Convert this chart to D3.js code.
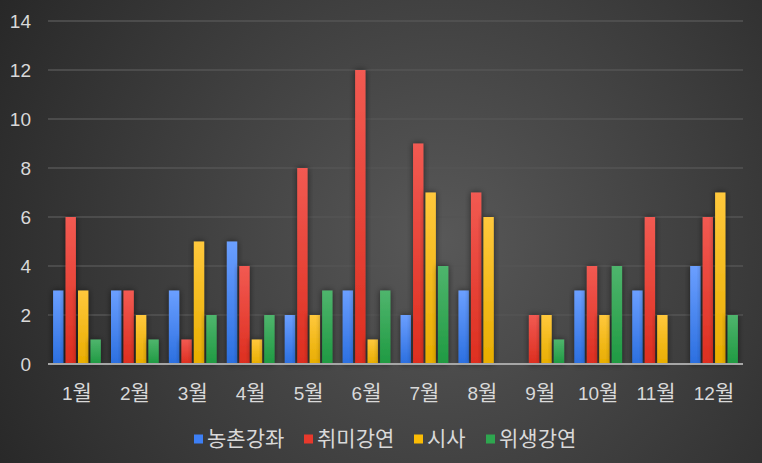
<!DOCTYPE html>
<html>
<head>
<meta charset="utf-8">
<script src="https://cdn.jsdelivr.net/npm/d3@7"></script>
<style>
	html, body { margin: 0; padding: 0; }
	body { width: 762px; height: 463px; overflow: hidden; }
	text { font-family: "Liberation Sans", "Noto Sans CJK KR", sans-serif; }
	.kr { font-family: "Noto Sans CJK KR", sans-serif; }
</style>
</head>
<body>
<script>
(function() {

	var months = ['1월', '2월', '3월', '4월', '5월', '6월', '7월', '8월', '9월', '10월', '11월', '12월'];
	var seriesNames = ['농촌강좌', '취미강연', '시사', '위생강연'];
	var farmLectures = [3, 3, 3, 5, 2, 3, 2, 3, 0, 3, 3, 4];
	var hobbyLectures = [6, 3, 1, 4, 8, 12, 9, 7, 2, 4, 6, 6];
	var currentAffairs = [3, 2, 5, 1, 2, 1, 7, 6, 2, 2, 2, 7];
	var hygieneLectures = [1, 1, 2, 2, 3, 3, 4, 0, 1, 4, 0, 2];
	var yTicks = [0, 2, 4, 6, 8, 10, 12, 14];

	var seriesValues = [farmLectures, hobbyLectures, currentAffairs, hygieneLectures];
	var colors = [
		['#6b9fff', '#2b6fe0'],
		['#f25a52', '#dd2e1f'],
		['#ffc83c', '#e8ad00'],
		['#4fb56d', '#1f9a42']
	];
	var legendColors = ['#3d7ff5', '#e8392c', '#fbbc05', '#2ea64f'];

	var width = 762, height = 463;
	var left = 48, right = 743, top = 21, bottom = 364;
	var fontSize = '19px';
	var krSize = '21px';

	var svg = d3.select('body').append('svg')
		.attr('width', width)
		.attr('height', height);

	var defs = svg.append('defs');

	// background
	var bg = defs.append('radialGradient')
		.attr('id', 'bg')
		.attr('gradientUnits', 'userSpaceOnUse')
		.attr('cx', 440).attr('cy', 240).attr('r', 520);
	bg.append('stop').attr('offset', '0%').attr('stop-color', '#585858');
	bg.append('stop').attr('offset', '100%').attr('stop-color', '#262626');

	svg.append('rect')
		.attr('width', width).attr('height', height)
		.attr('fill', 'url(#bg)');

	// bar gradients
	colors.forEach(function(c, i) {
		var g = defs.append('linearGradient')
			.attr('id', 'bar' + i)
			.attr('x1', 0).attr('y1', 0).attr('x2', 0).attr('y2', 1);
		g.append('stop').attr('offset', '0%').attr('stop-color', c[0]);
		g.append('stop').attr('offset', '100%').attr('stop-color', c[1]);
	});

	var shadow = defs.append('filter')
		.attr('id', 'shadow')
		.attr('x', '-50%').attr('y', '-20%')
		.attr('width', '200%').attr('height', '140%');
	shadow.append('feDropShadow')
		.attr('dx', 0).attr('dy', 0)
		.attr('stdDeviation', 3)
		.attr('flood-color', '#000')
		.attr('flood-opacity', 0.55);

	var x0 = d3.scaleBand()
		.domain(months)
		.range([left, right])
		.paddingInner(0.176)
		.paddingOuter(0.088);

	var x1 = d3.scaleBand()
		.domain(d3.range(seriesNames.length))
		.range([0, x0.bandwidth()])
		.paddingInner(0.17)
		.paddingOuter(0);

	var y = d3.scaleLinear()
		.domain([0, 14])
		.range([bottom, top]);

	// gridlines
	svg.append('g')
		.selectAll('line')
		.data(yTicks.filter(function(d) { return d > 0; }))
		.enter()
		.append('line')
		.attr('x1', left).attr('x2', right)
		.attr('y1', function(d) { return y(d); })
		.attr('y2', function(d) { return y(d); })
		.attr('stroke', '#555555')
		.attr('stroke-width', 1.5);

	// y axis labels
	var yAxis = svg.append('g')
		.attr('transform', 'translate(' + left + ',0)')
		.call(d3.axisLeft(y).tickValues(yTicks).tickSize(0).tickPadding(17));
	yAxis.select('.domain').remove();
	yAxis.selectAll('text')
		.attr('fill', '#d9d9d9')
		.style('font-size', fontSize);

	// bars
	var groups = svg.append('g')
		.selectAll('g')
		.data(months)
		.enter()
		.append('g')
		.attr('transform', function(m) { return 'translate(' + x0(m) + ',0)'; });

	groups.selectAll('rect')
		.data(function(m, mi) {
			return seriesValues.map(function(vals, si) { return { s: si, v: vals[mi] }; })
				.filter(function(d) { return d.v > 0; });
		})
		.enter()
		.append('rect')
		.attr('x', function(d) { return x1(d.s); })
		.attr('width', x1.bandwidth())
		.attr('y', function(d) { return y(d.v); })
		.attr('height', function(d) { return y(0) - y(d.v); })
		.attr('fill', function(d) { return 'url(#bar' + d.s + ')'; })
		.attr('filter', 'url(#shadow)');

	// x axis
	var xAxis = svg.append('g')
		.attr('transform', 'translate(0,' + bottom + ')')
		.call(d3.axisBottom(x0).tickSize(0).tickPadding(23));
	xAxis.select('.domain')
		.attr('stroke', '#a6a6a6')
		.attr('stroke-width', 2)
		.attr('d', 'M' + left + ',0H' + right);
	xAxis.selectAll('text')
		.attr('fill', '#d9d9d9')
		.style('font-size', fontSize)
		.text(null)
		.each(function(m) {
			var t = d3.select(this);
			t.append('tspan').text(m.slice(0, -1));
			t.append('tspan').attr('class', 'kr').style('font-size', krSize).text(m.slice(-1));
		});

	// legend
	var legendX = [194, 304, 414, 486];
	var legend = svg.append('g')
		.selectAll('g')
		.data(seriesNames)
		.enter()
		.append('g')
		.attr('transform', function(d, i) { return 'translate(' + legendX[i] + ',439)'; });
	legend.append('rect')
		.attr('x', 0).attr('y', -4.5)
		.attr('width', 9).attr('height', 9)
		.attr('fill', function(d, i) { return legendColors[i]; });
	legend.append('text')
		.attr('class', 'kr')
		.attr('x', 13)
		.attr('dy', '0.35em')
		.attr('fill', '#d9d9d9')
		.style('font-size', krSize)
		.text(function(d) { return d; });

})();
</script>
</body>
</html>
